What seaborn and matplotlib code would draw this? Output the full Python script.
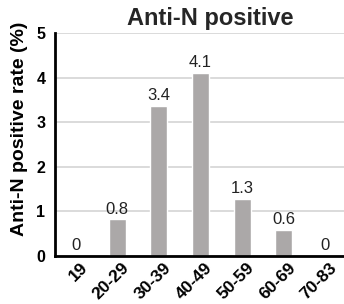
import matplotlib
matplotlib.use("Agg")
import matplotlib.pyplot as plt
import matplotlib.transforms as mtransforms
import seaborn as sns
import pandas as pd

categories = ["19", "20-29", "30-39", "40-49", "50-59", "60-69", "70-83"]
values = [0, 0.82, 3.36, 4.11, 1.28, 0.58, 0]
labels = ["0", "0.8", "3.4", "4.1", "1.3", "0.6", "0"]

sns.set_theme(style="whitegrid")
plt.rcParams['font.family'] = ['Liberation Sans', 'DejaVu Sans']

df = pd.DataFrame({"age": categories, "rate": values})

fig = plt.figure(figsize=(3.44, 3.04), dpi=100)
ax = fig.add_axes([55/344, 1 - 256/304, 1 - 55/344, (256 - 33)/304])
sns.barplot(data=df, x="age", y="rate", color="#aba8a8", saturation=1, width=0.41, ax=ax)

for i, (v, lab) in enumerate(zip(values, labels)):
    ax.text(i, v + 0.06, lab, ha="center", va="bottom", fontsize=12, color="#222222")

ax.set_ylim(0, 5)
ax.set_xlim(-0.5, 6.45)
ax.set_yticks([0, 1, 2, 3, 4, 5])
ax.grid(axis="y", color="#d4d4d4", linewidth=1.2)
ax.grid(axis="x", visible=False)
for s in ["top", "right"]:
    ax.spines[s].set_visible(False)
for s in ["left", "bottom"]:
    ax.spines[s].set_visible(True)
    ax.spines[s].set_color("black")
    ax.spines[s].set_linewidth(2)
ax.set_xlabel("")
ax.set_ylabel("Anti-N positive rate (%)", fontsize=14, fontweight="bold", color="black")
ax.yaxis.set_label_coords(-0.093, 0.57)
ax.tick_params(axis="y", labelsize=11.5, pad=7, length=0, labelcolor="black")
ax.tick_params(axis="x", labelsize=12.5, pad=3, length=0, labelcolor="black")
for t in ax.get_yticklabels():
    t.set_fontweight("bold")
offset = mtransforms.ScaledTranslation(4/100, 0, fig.dpi_scale_trans)
for t in ax.get_xticklabels():
    t.set_fontweight("bold")
    t.set_rotation(45)
    t.set_ha("right")
    t.set_rotation_mode("anchor")
    t.set_transform(t.get_transform() + offset)
ax.set_facecolor("white")
fig.text(210/344, 1 - 18/304, "Anti-N positive", ha="center", va="center", fontsize=17, fontweight="bold")

fig.savefig("out.png", dpi=100)
